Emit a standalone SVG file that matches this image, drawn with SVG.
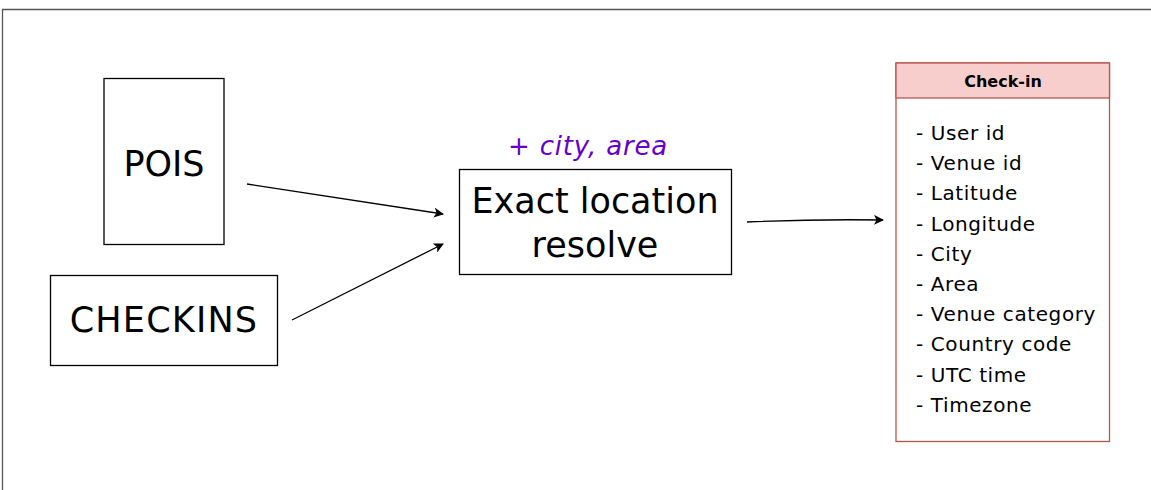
<svg xmlns="http://www.w3.org/2000/svg" width="1151" height="490" viewBox="0 0 1151 490">
<defs>
<marker id="arr" viewBox="0 0 10 10" refX="9" refY="5" markerWidth="10" markerHeight="10" markerUnits="userSpaceOnUse" orient="auto">
<path d="M0,0 L10,5 L0,10 L2.5,5 Z" fill="#000"/>
</marker>
</defs>
<style>
.box{fill:#fff;stroke:#000;stroke-width:1.3}
.big{font-family:"DejaVu Sans",sans-serif;font-size:35px;fill:#000;text-anchor:middle}
.item{font-family:"DejaVu Sans",sans-serif;font-size:20px;letter-spacing:0.6px;fill:#000}
.conn{fill:none;stroke:#000;stroke-width:1.3;marker-end:url(#arr)}
</style>
<rect width="1151" height="490" fill="#fff"/>
<path d="M2.5,490 V9.5 H1151" fill="none" stroke="#555" stroke-width="1.3"/>
<g id="pois">
<rect class="box" x="104" y="78.5" width="120" height="166"/>
<text class="big" x="164" y="176">POIS</text>
</g>
<g id="checkins">
<rect class="box" x="50.5" y="275.5" width="227" height="90"/>
<text class="big" x="164" y="332" letter-spacing="1.2">CHECKINS</text>
</g>
<g id="resolve">
<rect class="box" x="459.5" y="169.5" width="272" height="105"/>
<text class="big" x="595" y="213">Exact location</text>
<text class="big" x="595" y="257">resolve</text>
<text x="588" y="155" font-family="DejaVu Sans, sans-serif" font-size="26" font-style="italic" letter-spacing="0.8" fill="#6600CC" text-anchor="middle">+ city, area</text>
</g>
<g id="checkin-table">
<rect x="896" y="63" width="213.5" height="378.5" fill="#fff" stroke="#b85450" stroke-width="1.3"/>
<rect x="896" y="63" width="213.5" height="35" fill="#f8cecc" stroke="#b85450" stroke-width="1.3"/>
<text x="1003" y="87" font-family="DejaVu Sans, sans-serif" font-size="16" font-weight="bold" text-anchor="middle">Check-in</text>
<text class="item" x="916" y="140">- User id</text>
<text class="item" x="916" y="170.2">- Venue id</text>
<text class="item" x="916" y="200.4">- Latitude</text>
<text class="item" x="916" y="230.6">- Longitude</text>
<text class="item" x="916" y="260.8">- City</text>
<text class="item" x="916" y="291">- Area</text>
<text class="item" x="916" y="321.2">- Venue category</text>
<text class="item" x="916" y="351.4">- Country code</text>
<text class="item" x="916" y="381.6">- UTC time</text>
<text class="item" x="916" y="411.8">- Timezone</text>
</g>
<g id="connectors">
<path class="conn" d="M247,184 L443,214"/>
<path class="conn" d="M292,320 L443,244"/>
<path class="conn" d="M747,222 Q815,219 883,220"/>
</g>
</svg>
